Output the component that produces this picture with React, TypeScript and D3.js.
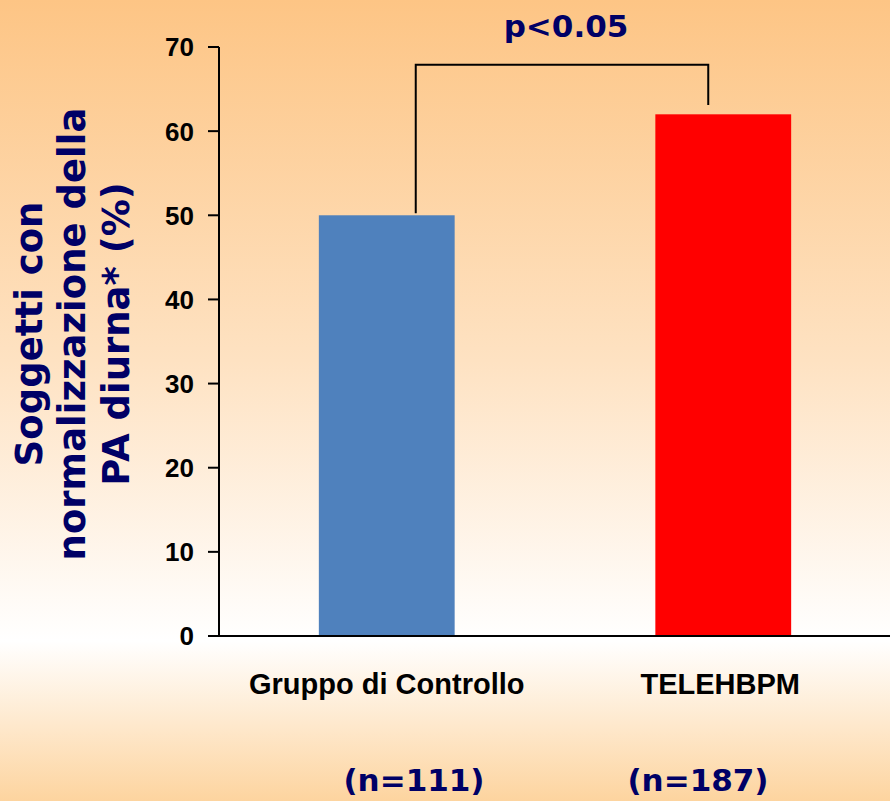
import React from "react";
import * as d3 from "d3";

const categories = ["Gruppo di Controllo", "TELEHBPM"];
const values = [50, 62];
const sampleSizes = ["(n=111)", "(n=187)"];
const barColors = ["#4F81BD", "#FF0000"];
const yTicks = [0, 10, 20, 30, 40, 50, 60, 70];
const titleLines = ["Soggetti con", "normalizzazione della", "PA diurna* (%)"];
const pLabel = "p<0.05";

const W = 890;
const H = 801;
const NAVY = "#000066";

export default function App() {
  const y = d3.scaleLinear().domain([0, 70]).range([636, 47]);
  const x = d3
    .scaleBand<string>()
    .domain(categories)
    .range([219, 891])
    .paddingInner(0.5964)
    .paddingOuter(0.2967);

  const centerOf = (c: string) => (x(c) as number) + x.bandwidth() / 2;
  const nLabelX = [414, 698];

  // bracket linking the two bars
  const leftX = centerOf(categories[0]) + 29;
  const rightX = centerOf(categories[1]) - 15;
  const bracketTop = y(67.9);

  return (
    <svg
      width={W}
      height={H}
      style={{ position: "absolute", left: 0, top: 0, display: "block" }}
    >
      <defs>
        <linearGradient id="bg" x1="0" y1="0" x2="0" y2="1">
          <stop offset="0" stopColor="#FDC585" />
          <stop offset="0.45" stopColor="#FEE2C2" />
          <stop offset="0.8" stopColor="#FFFFFF" />
          <stop offset="1" stopColor="#FDD49F" />
        </linearGradient>
      </defs>
      <rect x={0} y={0} width={W} height={H} fill="url(#bg)" />

      {/* bars */}
      {values.map((v, i) => (
        <rect
          key={categories[i]}
          x={x(categories[i])}
          y={y(v)}
          width={x.bandwidth()}
          height={y(0) - y(v)}
          fill={barColors[i]}
        />
      ))}

      {/* y axis */}
      <line x1={219} x2={219} y1={y(70)} y2={y(0)} stroke="#000" strokeWidth={2} />
      {yTicks.map((t) => (
        <g key={t}>
          <line x1={208} x2={219} y1={y(t)} y2={y(t)} stroke="#000" strokeWidth={2} />
          <text
            x={194}
            y={y(t)}
            dy="0.36em"
            textAnchor="end"
            fontFamily="Liberation Sans, Arial, sans-serif"
            fontWeight="bold"
            fontSize={26}
            fill="#000"
          >
            {t}
          </text>
        </g>
      ))}
      {/* x axis */}
      <line x1={208} x2={890} y1={y(0)} y2={y(0)} stroke="#000" strokeWidth={2} />

      {/* category labels */}
      {categories.map((c) => (
        <text
          key={c}
          x={centerOf(c) - (c === "TELEHBPM" ? 3 : 0)}
          y={694}
          textAnchor="middle"
          fontFamily="Liberation Sans, Arial, sans-serif"
          fontWeight="bold"
          fontSize={29}
          fill="#000"
        >
          {c}
        </text>
      ))}

      {/* sample sizes */}
      {sampleSizes.map((s, i) => (
        <text
          key={s}
          x={nLabelX[i]}
          y={791}
          textAnchor="middle"
          fontFamily="DejaVu Sans, Verdana, sans-serif"
          fontWeight="bold"
          fontSize={31}
          fill={NAVY}
        >
          {s}
        </text>
      ))}

      {/* significance bracket */}
      <path
        d={`M${leftX},${y(50) - 2} V${bracketTop} H${rightX} V${y(63.1)}`}
        fill="none"
        stroke="#000"
        strokeWidth={2}
      />
      <text
        x={566}
        y={37}
        textAnchor="middle"
        fontFamily="DejaVu Sans, Verdana, sans-serif"
        fontWeight="bold"
        fontSize={31}
        fill={NAVY}
      >
        {pLabel}
      </text>

      {/* y axis title */}
      <g transform="translate(0,334) rotate(-90)">
        {titleLines.map((l, i) => (
          <text
            key={l}
            x={0}
            y={[42, 85, 129][i]}
            textAnchor="middle"
            fontFamily="DejaVu Sans, Verdana, sans-serif"
            fontWeight="bold"
            fontSize={37}
            fill={NAVY}
          >
            {l}
          </text>
        ))}
      </g>
    </svg>
  );
}
